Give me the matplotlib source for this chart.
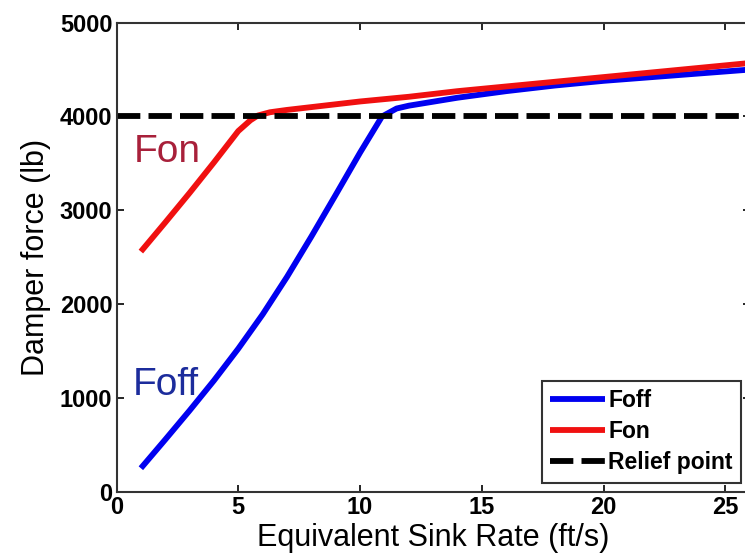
import numpy as np
import matplotlib
matplotlib.use("Agg")
import matplotlib.pyplot as plt

plt.rcParams['font.family'] = ['Liberation Sans', 'DejaVu Sans']

# Foff: damper force with control off
foff_x = [1, 2, 3, 4, 5, 6, 7, 8, 9, 10, 10.9, 11.5, 12, 14, 16, 18, 20, 22, 24, 26]
foff_y = [250, 555, 865, 1185, 1525, 1890, 2290, 2720, 3165, 3615, 4000, 4085, 4115,
          4200, 4270, 4330, 4380, 4420, 4460, 4500]

# Fon: damper force with control on
fon_x = [1, 2, 3, 4, 5, 5.5, 5.8, 6.3, 7, 8, 10, 12, 14, 16, 18, 20, 22, 24, 26]
fon_y = [2560, 2870, 3185, 3510, 3845, 3960, 4010, 4045, 4070, 4100, 4160, 4210, 4270,
         4320, 4370, 4420, 4470, 4520, 4570]

relief_x = [0, 26]
relief_y = [4000, 4000]

xticks = [0, 5, 10, 15, 20, 25]
yticks = [0, 1000, 2000, 3000, 4000, 5000]

fig = plt.figure(figsize=(7.45, 5.6), dpi=100)
ax = fig.add_axes([0.1564, 0.122, 0.85, 0.8375])

ax.plot(foff_x, foff_y, color='#0000f0', linewidth=4.2, label='Foff', solid_capstyle='butt')
ax.plot(fon_x, fon_y, color='#f01010', linewidth=4.2, label='Fon', solid_capstyle='butt')
ax.plot(relief_x, relief_y, color='black', linewidth=4.2, linestyle=(0, (4, 1.4)),
        label='Relief point')

ax.text(0.72, 3515, 'Fon', color='#a8203a', fontsize=28)
ax.text(0.68, 1031, 'Foff', color='#1c2c9c', fontsize=28)

ax.set_xlim(0, 26)
ax.set_ylim(0, 5000)
ax.set_xticks(xticks)
ax.set_yticks(yticks)
ax.tick_params(direction='in', top=True, right=True, length=5, width=1.2,
               labelsize=17, pad=3)
for lbl in ax.get_xticklabels() + ax.get_yticklabels():
    lbl.set_fontweight('bold')
for s in ax.spines.values():
    s.set_linewidth(1.5)
    s.set_color('#333333')

ax.set_xlabel('Equivalent Sink Rate (ft/s)', fontsize=22, labelpad=3)
ax.set_ylabel('Damper force (lb)', fontsize=22, labelpad=6)

leg = ax.legend(loc='lower right', prop={'size': 16.5, 'weight': 'bold'},
                handlelength=2.4, handletextpad=0.15, labelspacing=0.35,
                borderaxespad=0.4, borderpad=0.35, fancybox=False,
                edgecolor='#333333', framealpha=1)
leg.get_frame().set_linewidth(1.5)

fig.savefig('out.png', dpi=100)
